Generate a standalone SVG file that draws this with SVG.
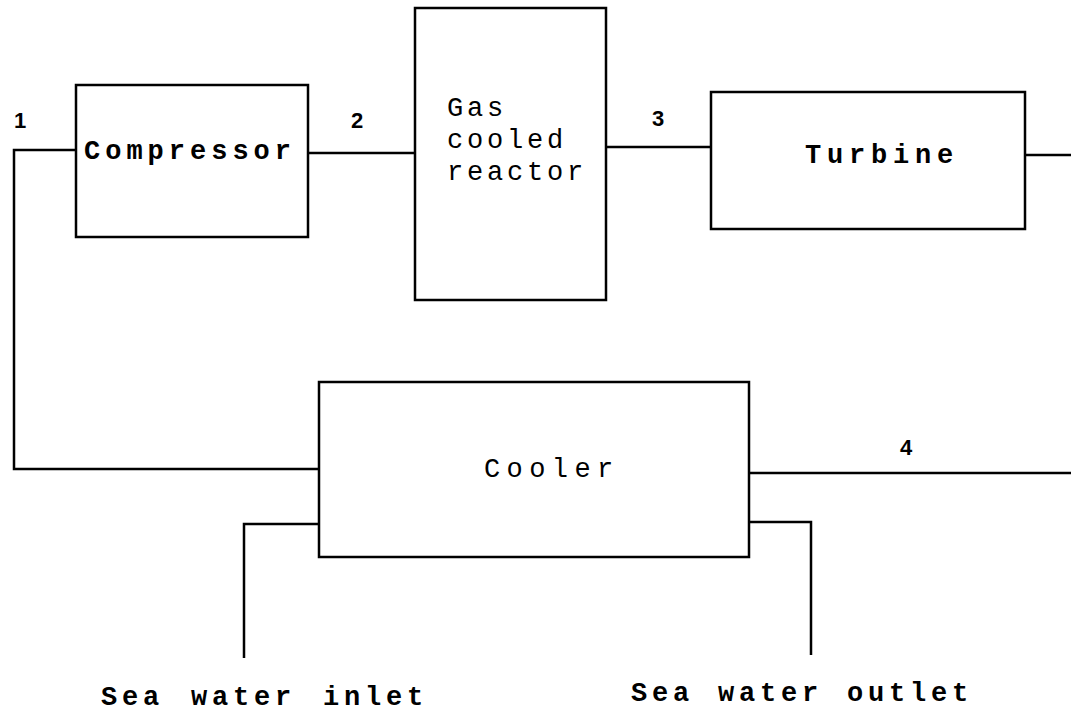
<svg xmlns="http://www.w3.org/2000/svg" width="1071" height="715" viewBox="0 0 1071 715">
<style>
.box{fill:#fff;stroke:#000;stroke-width:2.5}
.ln{fill:none;stroke:#000;stroke-width:2.5}
.lbl{font-family:"Liberation Mono",monospace;font-size:27px;font-weight:bold;fill:#000}
.lr{font-family:"Liberation Mono",monospace;font-size:27px;fill:#000}
.num{font-family:"Liberation Sans",Arial,sans-serif;font-size:22px;font-weight:bold;fill:#000;text-anchor:middle}
</style>
<rect width="1071" height="715" fill="#fff"/>
<g id="connectors">
<path class="ln" d="M76,150 H14 V469 H319"/>
<path class="ln" d="M308,153 H415"/>
<path class="ln" d="M606,147 H711"/>
<path class="ln" d="M1025,155 H1071"/>
<path class="ln" d="M749,473 H1071"/>
<path class="ln" d="M319,524 H244 V658"/>
<path class="ln" d="M749,522 H811 V655"/>
<text class="num" x="20" y="128">1</text>
<text class="num" x="357" y="128">2</text>
<text class="num" x="658" y="126">3</text>
<text class="num" x="906" y="455">4</text>
</g>
<g id="compressor">
<rect class="box" x="76" y="85" width="232" height="152"/>
<text class="lbl" x="84" y="159" letter-spacing="5">Compressor</text>
</g>
<g id="reactor">
<rect class="box" x="415" y="8" width="191" height="292"/>
<text class="lr" x="447" y="116" letter-spacing="3.8">Gas</text>
<text class="lr" x="447" y="148" letter-spacing="3.8">cooled</text>
<text class="lr" x="447" y="180" letter-spacing="3.8">reactor</text>
</g>
<g id="turbine">
<rect class="box" x="711" y="92" width="314" height="137"/>
<text class="lbl" x="805" y="163" letter-spacing="5.8">Turbine</text>
</g>
<g id="cooler">
<rect class="box" x="319" y="382" width="430" height="175"/>
<text class="lr" x="484" y="477" letter-spacing="6.4">Cooler</text>
</g>
<g id="sea-water-inlet">
<text class="lbl" x="101" y="705" letter-spacing="4.8" word-spacing="6">Sea water inlet</text>
</g>
<g id="sea-water-outlet">
<text class="lbl" x="631" y="701" letter-spacing="4.8" word-spacing="3">Sea water outlet</text>
</g>
</svg>
